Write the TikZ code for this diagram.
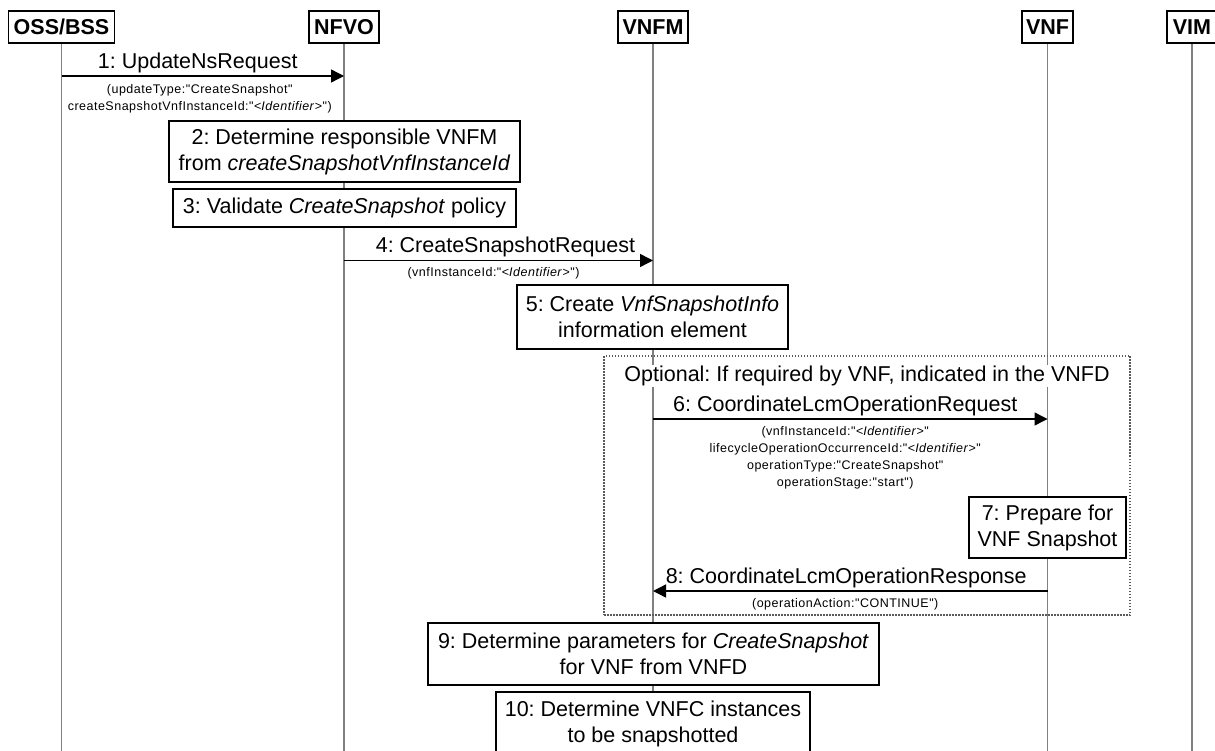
\documentclass[tikz,border=0pt]{standalone}
\usepackage{fontspec}
\setmainfont{Liberation Sans}
\newfontfamily\prmfont{Liberation Sans}[LetterSpace=4]
\usetikzlibrary{arrows.meta}
\definecolor{lifegray}{RGB}{128,128,128}
\definecolor{framegray}{RGB}{90,90,90}
\frenchspacing
\tikzset{
  every node/.style={inner sep=0pt},
  hdr/.style={draw=black, line width=1.3pt, fill=white, font=\fontsize{21.5}{26}\selectfont\bfseries, minimum height=32pt},
  life/.style={draw=lifegray, line width=1.6pt},
  actbox/.style={draw=black, line width=1.3pt, fill=white, align=center, font=\fontsize{21.5}{26}\selectfont},
  msg/.style={draw=black, line width=1.4pt, -{Triangle[length=13pt,width=13pt]}},
  lbl/.style={font=\fontsize{21.5}{26}\selectfont, anchor=base, pos=0.5},
  prm/.style={font=\prmfont\fontsize{12.5}{17}\selectfont, align=center, anchor=north, pos=0.5},
  optframe/.style={draw=framegray, dash pattern=on 1.5pt off 1.5pt, line width=1.2pt},
}
\begin{document}
\frenchspacing
\begin{tikzpicture}[x=1pt,y=-1pt]
\useasboundingbox (0,0) rectangle (1215,751);
\clip (0,0) rectangle (1215,751);
\fill[white] (0,0) rectangle (1215,751);

% participants
\node[hdr, minimum width=106pt] (oss) at (61.5,27) {OSS/BSS};
\node[hdr, minimum width=70pt] (nfvo) at (344,27) {NFVO};
\node[hdr, minimum width=70pt] (vnfm) at (653,27) {VNFM};
\node[hdr, minimum width=51pt] (vnf) at (1047.5,27) {VNF};
\node[hdr, minimum width=50pt] (vim) at (1192,27) {VIM};

\coordinate (bot) at (0,760);
\coordinate (y1) at (0,76);
\coordinate (y4) at (0,260.5);
\coordinate (y6) at (0,419);
\coordinate (y8) at (0,591);

% lifelines
\draw[life] (oss.south) -- (oss |- bot);
\draw[life] (nfvo.south) -- (nfvo |- bot);
\draw[life] (vnfm.south) -- (vnfm |- bot);
\draw[life] (vnf.south) -- (vnf |- bot);
\draw[life] (vim.south) -- (vim |- bot);

% optional frame
\node[optframe, minimum width=526pt, minimum height=259pt] (opt) at (867,485.5) {};
\node[fill=white, inner sep=1pt, anchor=base, font=\fontsize{21.5}{26}\selectfont] (optt) at (867,381.5) {Optional: If required by VNF, indicated in the VNFD};

% messages
\draw[msg] (oss |- y1) --
  node[lbl, yshift=7.7pt, xshift=-5pt] (l1) {1: UpdateNsRequest}
  node[prm, yshift=-7.5pt, xshift=-3pt] (p1) {(updateType:"CreateSnapshot"\\createSnapshotVnfInstanceId:"<\textit{Identifier}>")}
  (nfvo |- y1);

\draw[msg] (nfvo |- y4) --
  node[lbl, yshift=8pt, xshift=7pt] (l4) {4: CreateSnapshotRequest}
  node[prm, yshift=-6pt, xshift=-5pt] (p4) {(vnfInstanceId:"<\textit{Identifier}>")}
  (vnfm |- y4);

\draw[msg] (vnfm |- y6) --
  node[lbl, yshift=7.5pt, xshift=-5pt] (l6) {6: CoordinateLcmOperationRequest}
  node[prm, yshift=-6.5pt, xshift=-5pt] (p6) {(vnfInstanceId:"<\textit{Identifier}>"\\lifecycleOperationOccurrenceId:"<\textit{Identifier}>"\\operationType:"CreateSnapshot"\\operationStage:"start")}
  (vnf |- y6);

\draw[msg] (vnf |- y8) --
  node[lbl, yshift=7.5pt, xshift=-4pt] (l8) {8: CoordinateLcmOperationResponse}
  node[prm, yshift=-7pt, xshift=-5pt] (p8) {(operationAction:"CONTINUE")}
  (vnfm |- y8);

% activity boxes
\node[actbox, minimum width=351pt, minimum height=61pt] (b2) at (344.5,151.5) {2: Determine responsible VNFM\\from \textit{createSnapshotVnfInstanceId}};
\node[actbox, minimum width=343pt, minimum height=38pt] (b3) at (344.5,208) {3: Validate \textit{CreateSnapshot} policy};
\node[actbox, minimum width=271pt, minimum height=64pt] (b5) at (652.5,317) {5: Create \textit{VnfSnapshotInfo}\\information element};
\node[actbox, minimum width=157pt, minimum height=61pt] (b7) at (1047.5,527.5) {7: Prepare for\\VNF Snapshot};
\node[actbox, minimum width=451pt, minimum height=62pt] (b9) at (653.5,654) {9: Determine parameters for \textit{CreateSnapshot}\\for VNF from VNFD};
\node[actbox, minimum width=314pt, minimum height=64pt] (b10) at (653,724) {10: Determine VNFC instances\\to be snapshotted};
\end{tikzpicture}
\end{document}
